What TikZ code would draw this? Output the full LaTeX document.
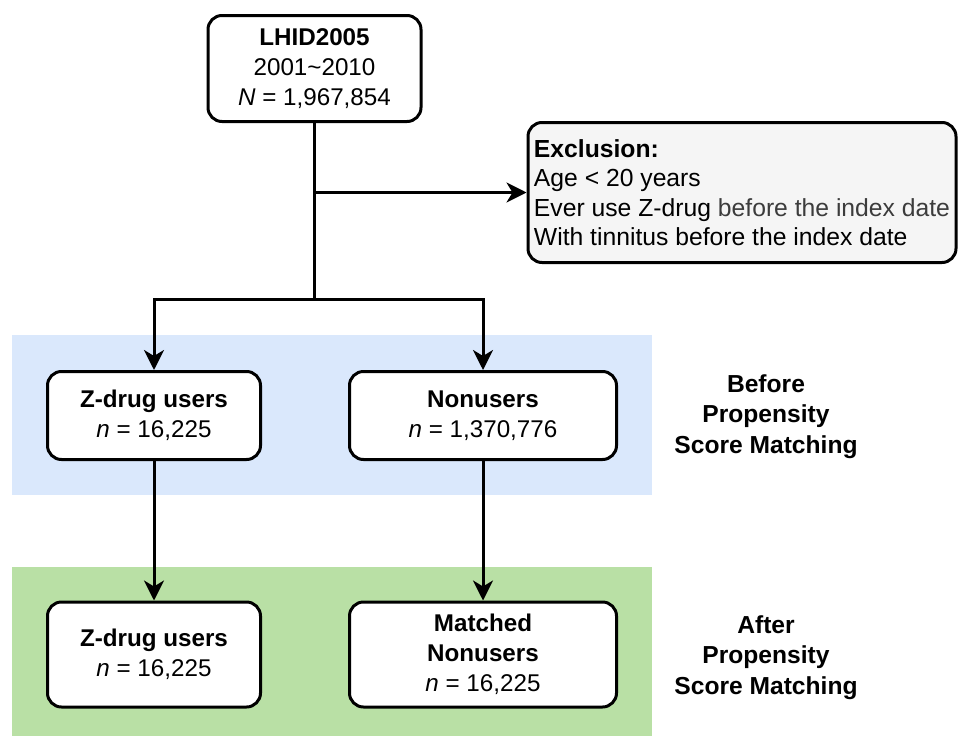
\documentclass[tikz,border=0pt]{standalone}
\usepackage{fontspec}
\setmainfont{Liberation Sans}
\usetikzlibrary{arrows.meta}
\definecolor{bandblue}{HTML}{DAE8FC}
\definecolor{bandgreen}{HTML}{B9E0A5}
\definecolor{exclgray}{HTML}{F5F5F5}
\definecolor{softtext}{HTML}{3C3C3C}
\begin{document}
\begin{tikzpicture}[x=1pt,y=-1pt,
  font=\fontsize{24.2}{30}\selectfont,
  box/.style={draw, line width=3pt, rounded corners=14pt, fill=white, align=center, inner sep=0pt},
  sidelabel/.style={align=center, font=\fontsize{24.6}{30.5}\selectfont\bfseries},
  arr/.style={line width=3pt, -{Stealth[length=20pt,width=20pt,inset=6pt]}},
  plain/.style={line width=3pt}]
\useasboundingbox (0,0) rectangle (958,736);
\fill[bandblue] (12,335) rectangle (652,495);
\fill[bandgreen] (12,567) rectangle (652,736);

\node[box, minimum width=213pt, minimum height=106pt] (top) at (314.5,68.5)
  {\textbf{LHID2005}\\2001\textasciitilde2010\\\textit{N} = 1,967,854};
\node[box, fill=exclgray, align=left, font=\fontsize{24.7}{29.5}\selectfont, minimum width=428pt, minimum height=140pt] (excl) at (742,192.5)
  {\textbf{Exclusion:}\\Age < 20 years\\Ever use Z-drug \textcolor{softtext}{before the index date}\\With tinnitus before the index date};

\node[box, minimum width=213pt, minimum height=88pt] (z1) at (154,415.5)
  {\textbf{Z-drug users}\\\textit{n} = 16,225};
\node[box, minimum width=267pt, minimum height=88pt] (n1) at (483,415.5)
  {\textbf{Nonusers}\\\textit{n} = 1,370,776};
\node[box, minimum width=213pt, minimum height=105pt] (z2) at (154,654.5)
  {\textbf{Z-drug users}\\\textit{n} = 16,225};
\node[box, minimum width=267pt, minimum height=105pt] (n2) at (483,654.5)
  {\textbf{Matched}\\\textbf{Nonusers}\\\textit{n} = 16,225};

\node[sidelabel] (before) at (766,416.5) {Before\\Propensity\\Score Matching};
\node[sidelabel] (after) at (766,657.5) {After\\Propensity\\Score Matching};

\coordinate (branch) at (314.5,192.5);
\coordinate (split) at (314.5,299);
\draw[plain] (top.south) -- (split);
\draw[arr] (branch) -- (excl.west);
\draw[arr] (split) -| (z1.north);
\draw[arr] (split) -| (n1.north);
\draw[arr] (z1.south) -- (z2.north);
\draw[arr] (n1.south) -- (n2.north);
\end{tikzpicture}
\end{document}
